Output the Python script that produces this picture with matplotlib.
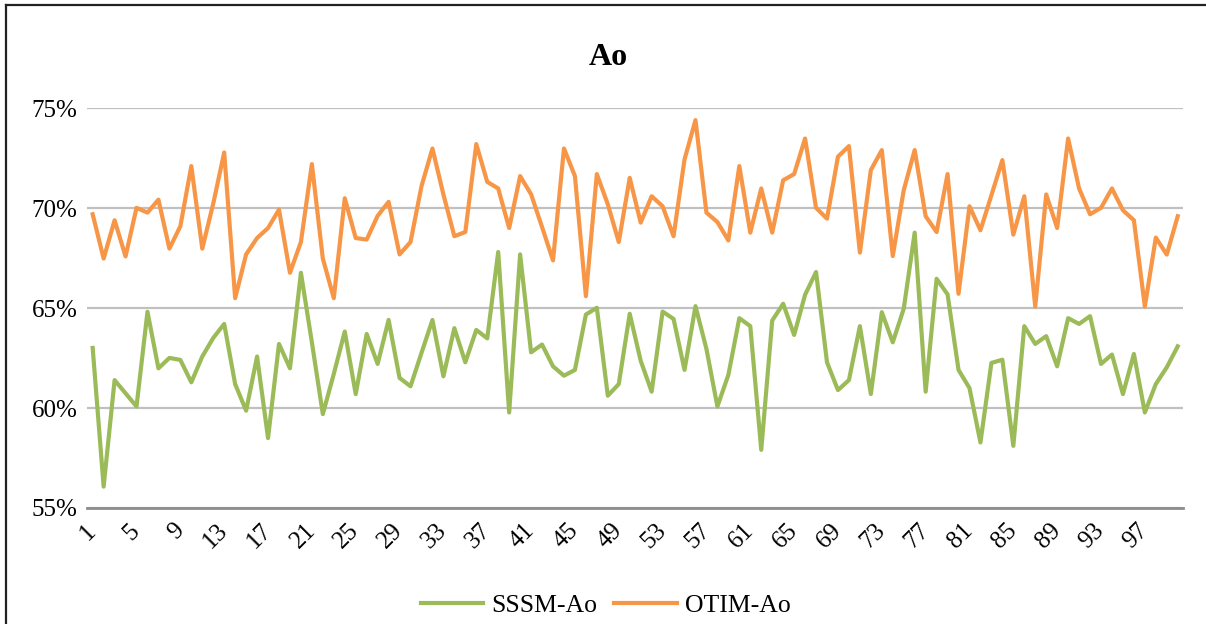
import matplotlib.pyplot as plt
from matplotlib.lines import Line2D
from matplotlib.ticker import FuncFormatter

plt.rcParams['font.family'] = ['Liberation Serif', 'DejaVu Serif']

# 样本编号 1..100
samples = list(range(1, 101))

sssm_ao = [63.01, 56.07, 61.40, 60.74, 60.08, 64.82, 61.99, 62.51, 62.41, 61.29,
           62.58, 63.51, 64.21, 61.20, 59.87, 62.58, 58.50, 63.21, 61.99, 66.77,
           63.29, 59.70, 61.71, 63.83, 60.70, 63.71, 62.21, 64.41, 61.51, 61.09,
           62.76, 64.41, 61.59, 64.00, 62.29, 63.91, 63.49, 67.81, 59.78, 67.69,
           62.79, 63.18, 62.09, 61.62, 61.91, 64.68, 65.02, 60.62, 61.20, 64.72,
           62.37, 60.82, 64.83, 64.46, 61.91, 65.10, 62.96, 60.08, 61.66, 64.50,
           64.10, 57.91, 64.38, 65.22, 63.66, 65.67, 66.81, 62.29, 60.90, 61.40,
           64.10, 60.70, 64.80, 63.29, 64.97, 68.78, 60.82, 66.47, 65.69, 61.91,
           61.00, 58.28, 62.26, 62.42, 58.11, 64.10, 63.21, 63.60, 62.09, 64.50,
           64.21, 64.60, 62.21, 62.68, 60.70, 62.71, 59.78, 61.20, 62.04, 63.09]

otim_ao = [69.70, 67.48, 69.40, 67.59, 70.02, 69.78, 70.43, 67.98, 69.10, 72.11,
           67.98, 70.23, 72.79, 65.50, 67.69, 68.51, 69.01, 69.93, 66.77, 68.31,
           72.21, 67.48, 65.50, 70.50, 68.51, 68.43, 69.62, 70.32, 67.69, 68.31,
           71.10, 72.99, 70.69, 68.60, 68.81, 73.21, 71.32, 70.99, 69.01, 71.61,
           70.70, 69.06, 67.39, 72.99, 71.61, 65.60, 71.71, 70.20, 68.31, 71.52,
           69.28, 70.60, 70.10, 68.60, 72.44, 74.41, 69.78, 69.31, 68.39, 72.11,
           68.78, 70.99, 68.78, 71.40, 71.71, 73.49, 70.02, 69.48, 72.58, 73.11,
           67.78, 71.91, 72.91, 67.61, 70.90, 72.91, 69.60, 68.81, 71.71, 65.72,
           70.10, 68.90, 70.65, 72.41, 68.68, 70.60, 65.08, 70.69, 69.01, 73.49,
           70.99, 69.70, 70.02, 70.99, 69.90, 69.40, 65.08, 68.53, 67.68, 69.60]

x_ticks = samples[::4]
y_ticks = [55, 60, 65, 70, 75]

green = '#9BBB59'
orange = '#F79646'

fig = plt.figure(figsize=(12.06, 6.24), dpi=100)
ax = fig.add_axes([0.0723, 0.1859, 0.9088, 0.6405])

ax.plot(samples, sssm_ao, color=green, lw=3, solid_joinstyle='round', label='SSSM-Ao')
ax.plot(samples, otim_ao, color=orange, lw=3, solid_joinstyle='round', label='OTIM-Ao')

ax.set_xlim(0.5, 100.5)
ax.set_ylim(55, 75)
ax.set_yticks(y_ticks)
ax.yaxis.set_major_formatter(FuncFormatter(lambda v, p: f'{v:.0f}%'))
ax.set_xticks(x_ticks)
ax.set_xticklabels([str(t) for t in x_ticks], rotation=45, ha='right', va='center',
                   rotation_mode='anchor')
ax.tick_params(axis='both', length=0, labelsize=18)
ax.tick_params(axis='y', pad=7)
ax.tick_params(axis='x', pad=14)

ax.grid(axis='y', color='#C0C0C0', lw=1.6)
ax.set_axisbelow(True)
for s in ['top', 'right', 'left']:
    ax.spines[s].set_visible(False)
ax.spines['bottom'].set_color('#8C8C8C')
ax.spines['bottom'].set_linewidth(2)

fig.text(0.5045, 0.908, 'Ao', ha='center', va='center', fontsize=23, fontweight='bold')

fig.legend(handles=[Line2D([], [], color=green, lw=3), Line2D([], [], color=orange, lw=3)],
           labels=['SSSM-Ao', 'OTIM-Ao'], loc='center', bbox_to_anchor=(0.502, 0.029),
           ncol=2, frameon=False, fontsize=18.5, handlelength=2.45, handletextpad=0.3,
           columnspacing=0.65)

# 外框（左边和上边）
fig.add_artist(Line2D([0.005, 0.005], [0.0, 0.992], color='#222222', lw=1.6,
                      transform=fig.transFigure))
fig.add_artist(Line2D([0.005, 1.0], [0.992, 0.992], color='#222222', lw=1.6,
                      transform=fig.transFigure))

fig.savefig('out.png', dpi=100)
